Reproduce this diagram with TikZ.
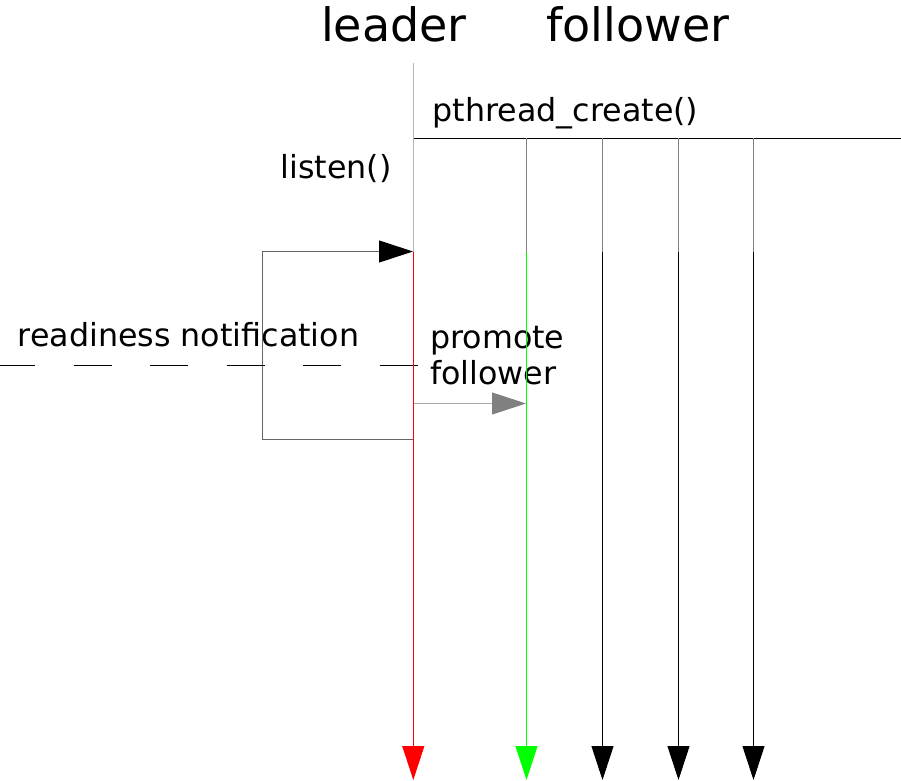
\documentclass[tikz,border=0pt]{standalone}
\usepackage{fontspec}
\setmainfont{DejaVu Sans}
\usetikzlibrary{arrows.meta}
\definecolor{lightline}{HTML}{B4B4B4}
\definecolor{midline}{HTML}{808080}
\definecolor{loopline}{HTML}{666666}
\definecolor{promline}{HTML}{AAAAAA}
\definecolor{greenthread}{HTML}{00FF00}
\definecolor{redthread}{HTML}{FF0000}
\begin{document}
\begin{tikzpicture}[x=0.75pt,y=-0.75pt,
  lbl/.style={font=\fontsize{23.8}{29}\selectfont, inner sep=0pt, anchor=base},
  hdr/.style={font=\fontsize{34.5}{41}\selectfont, inner sep=0pt, anchor=base},
  headtip/.style={-{Triangle[length=25.5pt,width=16.5pt]}},
  wire/.style={line width=0.75pt},
]
\useasboundingbox (0,0) rectangle (901,781);

% column headings
\node[hdr] (leaderhd) at (394,42) {leader};
\node[hdr] (followerhd) at (638,42) {follower};

% labels
\node[lbl] (create) at (565.5,122) {pthread\_create()};
\node[lbl] (listen) at (336,179) {listen()};
\node[lbl] (ready) at (188.5,347) {readiness notification};
\node[lbl, anchor=base west] (promA) at (430,349) {promote};
\node[lbl, anchor=base west] (promB) at (430,385) {follower};

% thread creation bar
\coordinate (Hstart) at (413,138.5);
\coordinate (Hend) at (901,138.5);
\draw[wire, black] (Hstart) -- (Hend);

% follower threads
\foreach \i/\x/\c in {1/526.5/greenthread, 2/602.5/black, 3/678.5/black, 4/753.5/black}{
  \coordinate (F\i top) at (\x,138.5);
  \coordinate (F\i mid) at (\x,252);
  \coordinate (F\i end) at (\x,780);
  \draw[wire, midline] (F\i top) -- (F\i mid);
  \draw[wire, \c, headtip] (F\i mid) -- (F\i end);
}

% listen loop back to the leader
\coordinate (loopA) at (413,439.5);
\coordinate (loopB) at (262.5,439.5);
\coordinate (loopC) at (262.5,251.5);
\coordinate (loopD) at (413,251.5);
\draw[wire, loopline, -{Triangle[length=25.5pt,width=16.5pt,fill=black,color=black]}]
  (loopA) -- (loopB) -- (loopC) -- (loopD);

% promote a follower
\coordinate (promS) at (414,403.5);
\coordinate (promE) at (526,403.5);
\draw[wire, promline, -{Triangle[length=25.5pt,width=16.5pt,fill=midline,color=midline]}]
  (promS) -- (promE);

% readiness notification line
\coordinate (readyS) at (-3,365.5);
\coordinate (readyE) at (419,365.5);
\draw[wire, black, dash pattern=on 28.5pt off 28.9pt] (readyS) -- (readyE);

% leader thread, drawn last so it stays on top
\coordinate (Ltop) at (413.5,63);
\coordinate (Lwake) at (413.3,252);
\coordinate (Lend) at (413.3,780);
\draw[wire, lightline] (Ltop) -- (413.5,252);
\draw[wire, redthread, headtip] (Lwake) -- (Lend);
\end{tikzpicture}
\end{document}
